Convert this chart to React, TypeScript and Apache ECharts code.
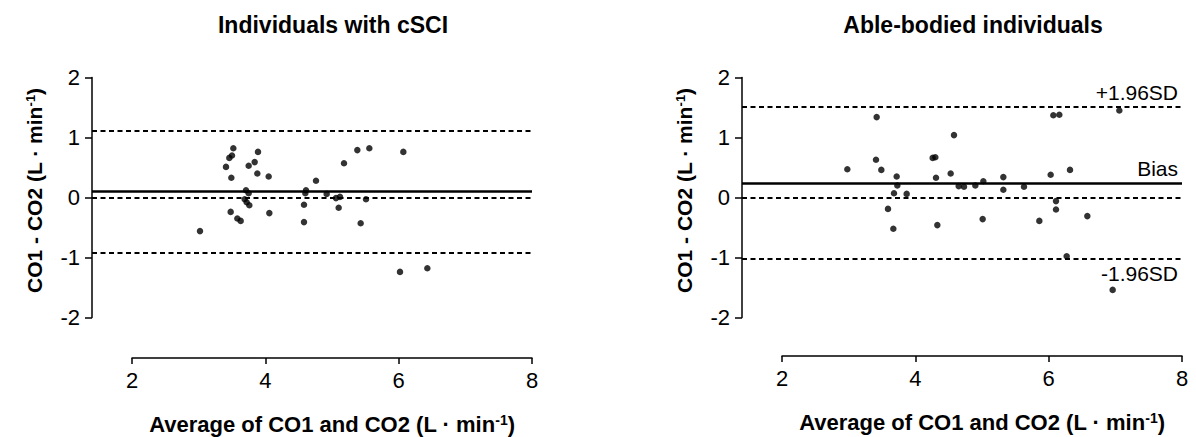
import React, { useEffect, useRef } from "react";
import * as echarts from "echarts";

// Individuals with cSCI: mean of the two CO readings vs. their difference
const cSciAvg = [3.52, 3.5, 3.46, 3.41, 3.49, 3.89, 3.84, 3.75, 3.88, 4.05, 3.71, 3.75, 3.69, 3.72, 3.76, 3.48, 3.58, 3.63, 3.02, 4.06, 4.76, 4.61, 4.6, 4.58, 4.58, 4.92, 5.06, 5.12, 5.1, 5.18, 5.38, 5.56, 5.51, 5.43, 6.07, 6.02, 6.43];
const cSciDiff = [0.82, 0.7, 0.66, 0.51, 0.33, 0.76, 0.59, 0.53, 0.4, 0.35, 0.12, 0.07, -0.03, -0.08, -0.13, -0.24, -0.35, -0.39, -0.56, -0.26, 0.28, 0.12, 0.07, -0.12, -0.41, 0.06, -0.01, 0.01, -0.17, 0.57, 0.79, 0.82, -0.03, -0.43, 0.76, -1.24, -1.18];
const cSciBias = 0.11;
const cSciUpper = 1.12;
const cSciLower = -0.92;

// Able-bodied individuals
const ableAvg = [3.42, 2.98, 3.41, 3.49, 3.72, 3.73, 3.68, 3.87, 3.59, 3.67, 4.26, 4.3, 4.31, 4.53, 4.58, 4.33, 4.65, 4.73, 4.9, 5.02, 5.01, 5.32, 5.32, 5.63, 5.86, 6.03, 6.07, 6.16, 6.11, 6.11, 6.32, 6.58, 6.27, 7.06, 6.96];
const ableDiff = [1.34, 0.47, 0.63, 0.46, 0.35, 0.2, 0.07, 0.06, -0.19, -0.52, 0.66, 0.67, 0.33, 0.4, 1.04, -0.46, 0.19, 0.18, 0.2, 0.27, -0.36, 0.34, 0.13, 0.18, -0.39, 0.38, 1.37, 1.38, -0.06, -0.2, 0.46, -0.31, -0.98, 1.45, -1.54];
const ableBias = 0.24;
const ableUpper = 1.51;
const ableLower = -1.02;

const titles = ["Individuals with cSCI", "Able-bodied individuals"];
const yTicks = [-2, -1, 0, 1, 2];
const xTicks = [2, 4, 6, 8];

const FONT = "'Liberation Sans', Arial, Helvetica, sans-serif";
const INK = "#000";

const richFor = (size: number, supSize: number) => ({
  b: { fontSize: size, fontWeight: "bold" as const, fontFamily: FONT, color: INK },
  s: {
    fontSize: supSize,
    fontWeight: "bold" as const,
    fontFamily: FONT,
    color: INK,
    verticalAlign: "top" as const,
    padding: [0, 0, 8, 0],
  },
});
const unitName = (lead: string) => `{b|${lead} (L · min}{s|-1}{b|)}`;

const dashed = { type: [5, 3.5] as number[], width: 2, color: INK };
const solid = { type: "solid" as const, width: 2.5, color: INK };

export default function App() {
  const ref = useRef<HTMLDivElement>(null);

  useEffect(() => {
    if (!ref.current) return;
    const chart = echarts.init(ref.current, null, { renderer: "svg" });

    const plotGrids = [
      { left: 92, width: 440, top: 77.5, height: 240 },
      { left: 742, width: 440, top: 77.5, height: 240 },
    ];
    const axisGrids = [
      { left: 132, width: 400, top: 330, height: 28 },
      { left: 782, width: 400, top: 328, height: 28 },
    ];

    const plotX = (gi: number) => ({
      type: "value" as const,
      gridIndex: gi,
      min: 1.4,
      max: 8,
      show: false,
    });
    const plotY = (gi: number) => ({
      type: "value" as const,
      gridIndex: gi,
      min: yTicks[0],
      max: yTicks[yTicks.length - 1],
      interval: 1,
      axisLine: { show: true, onZero: false, lineStyle: { color: INK, width: 1.5 } },
      axisTick: { show: true, length: 7, lineStyle: { color: INK, width: 1.5 } },
      axisLabel: { fontSize: 22, fontFamily: FONT, color: INK, margin: 12 },
      splitLine: { show: false },
      name: unitName("CO1 - CO2"),
      nameLocation: "middle" as const,
      nameRotate: 90,
      nameGap: 47,
      nameTextStyle: { rich: richFor(21, 13), padding: [0, 0, 0, 14] },
    });
    const scaleX = (gi: number) => ({
      type: "value" as const,
      gridIndex: gi,
      min: xTicks[0],
      max: xTicks[xTicks.length - 1],
      interval: 2,
      position: "bottom" as const,
      axisLine: { show: true, onZero: false, lineStyle: { color: INK, width: 1.5 } },
      axisTick: { show: true, length: 6, lineStyle: { color: INK, width: 1.5 } },
      axisLabel: { fontSize: 22, fontFamily: FONT, color: INK, margin: 11 },
      splitLine: { show: false },
      name: unitName("Average of CO1 and CO2"),
      nameLocation: "middle" as const,
      nameGap: 55,
      nameTextStyle: { rich: richFor(22, 14) },
    });
    const hiddenY = (gi: number) => ({
      type: "value" as const,
      gridIndex: gi,
      min: 0,
      max: 1,
      show: false,
    });

    const refLabel = (text: string, pos: string) => ({
      show: true,
      formatter: text,
      position: pos,
      fontSize: 21,
      fontFamily: FONT,
      color: INK,
      distance: [4, 4],
    });

    const titleStyle = { fontSize: 23, fontWeight: "bold", fontFamily: FONT, color: INK };

    const option = {
      animation: false,
      backgroundColor: "#fff",
      title: [
        { text: titles[0], left: 328, top: 8, textAlign: "center", textStyle: titleStyle },
        { text: titles[1], left: 968, top: 8, textAlign: "center", textStyle: titleStyle },
      ],
      grid: [...plotGrids, ...axisGrids],
      xAxis: [plotX(0), plotX(1), scaleX(2), scaleX(3)],
      yAxis: [plotY(0), plotY(1), hiddenY(2), hiddenY(3)],
      series: [
        {
          type: "scatter",
          xAxisIndex: 0,
          yAxisIndex: 0,
          symbol: "circle",
          symbolSize: 6.5,
          itemStyle: { color: INK },
          data: cSciAvg.map((x, i) => [x, cSciDiff[i]]),
          markLine: {
            silent: true,
            symbol: "none",
            label: { show: false },
            data: [
              { yAxis: cSciUpper, lineStyle: dashed },
              { yAxis: 0, lineStyle: dashed },
              { yAxis: cSciLower, lineStyle: dashed },
              { yAxis: cSciBias, lineStyle: solid },
            ],
          },
        },
        {
          type: "scatter",
          xAxisIndex: 1,
          yAxisIndex: 1,
          symbol: "circle",
          symbolSize: 6.5,
          itemStyle: { color: INK },
          data: ableAvg.map((x, i) => [x, ableDiff[i]]),
          markLine: {
            silent: true,
            symbol: "none",
            data: [
              { yAxis: ableUpper, lineStyle: dashed, label: refLabel("+1.96SD", "insideEndTop") },
              { yAxis: 0, lineStyle: dashed, label: { show: false } },
              { yAxis: ableLower, lineStyle: dashed, label: refLabel("-1.96SD", "insideEndBottom") },
              { yAxis: ableBias, lineStyle: solid, label: refLabel("Bias", "insideEndTop") },
            ],
          },
        },
      ],
    };

    chart.setOption(option as any);
    return () => chart.dispose();
  }, []);

  return (
    <div
      ref={ref}
      style={{ position: "absolute", left: 0, top: 0, width: 1196, height: 437, background: "#fff" }}
    />
  );
}
